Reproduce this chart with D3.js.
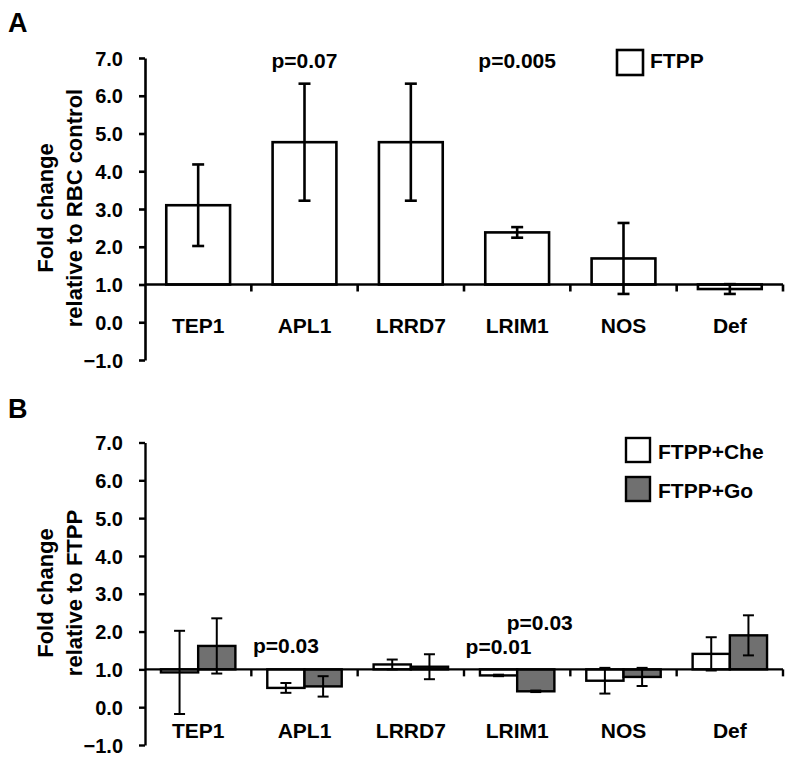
<!DOCTYPE html>
<html>
<head>
<meta charset="utf-8">
<script src="https://cdn.jsdelivr.net/npm/d3@7"></script>
<style>
  html, body { margin: 0; padding: 0; background: #fff; }
  svg { display: block; }
  text { font-family: "Liberation Sans", Arial, sans-serif; font-weight: bold; fill: #000; }
</style>
</head>
<body>
<svg id="chart" width="791" height="761"></svg>
<script>
// ---------- data ----------
const categories = ["TEP1", "APL1", "LRRD7", "LRIM1", "NOS", "Def"];
const yTickValues = [-1, 0, 1, 2, 3, 4, 5, 6, 7];

// Panel A: FTPP relative to RBC control
const ftppValues = [3.10, 4.77, 4.77, 2.38, 1.69, 0.88];
const ftppErrors = [1.08, 1.55, 1.55, 0.14, 0.94, 0.13];

// Panel B: relative to FTPP
const seriesNamesB = ["FTPP+Che", "FTPP+Go"];
const cheValues = [0.92, 0.51, 1.13, 0.84, 0.70, 1.41];
const cheErrors = [1.10, 0.13, 0.13, 0.02, 0.34, 0.44];
const goValues  = [1.62, 0.55, 1.07, 0.42, 0.80, 1.90];
const goErrors  = [0.73, 0.27, 0.33, 0.02, 0.24, 0.53];

const pLabelsA = [
  { category: "APL1", text: "p=0.07" },
  { category: "LRIM1", text: "p=0.005" }
];
const pLabelsB = [
  { category: "APL1", series: "FTPP+Che", text: "p=0.03" },
  { category: "LRIM1", series: "FTPP+Che", text: "p=0.01" },
  { category: "LRIM1", series: "FTPP+Go", text: "p=0.03" }
];

// ---------- layout ----------
const svg = d3.select("#chart");
const baseline = 1;
const gray = "#707070";

function drawAxes(g, y, x, o) {
  const yAxis = d3.axisLeft(y).tickValues(yTickValues).tickFormat(d3.format(".1f"))
    .tickSize(6).tickSizeOuter(0).tickPadding(16);
  const ga = g.append("g").attr("transform", `translate(${o.left},0)`).call(yAxis);
  ga.select(".domain").attr("stroke", "#000").attr("stroke-width", o.axisW);
  ga.selectAll(".tick line").attr("stroke", "#000").attr("stroke-width", o.axisW);
  ga.selectAll(".tick text").style("font-size", "20px").attr("dy", "0.36em");
  // x baseline at y = 1.0
  const y1 = y(baseline);
  g.append("line").attr("x1", o.left).attr("x2", o.right).attr("y1", y1).attr("y2", y1)
    .attr("stroke", "#000").attr("stroke-width", o.axisW);
  const step = x.step();
  categories.forEach((c, i) => {
    const bx = o.left + (i + 1) * step;
    g.append("line").attr("x1", bx).attr("x2", bx).attr("y1", y1).attr("y2", y1 + 7)
      .attr("stroke", "#000").attr("stroke-width", o.axisW);
  });
  // category labels
  g.selectAll(".cat").data(categories).enter().append("text")
    .attr("x", d => o.left + (categories.indexOf(d) + 0.5) * step)
    .attr("y", o.catY).attr("text-anchor", "middle").style("font-size", "21px").text(d => d);
  // y title
  o.titles.forEach((t, i) => {
    g.append("text").attr("transform", `translate(${o.titleX[i]},${o.titleY}) rotate(-90)`)
      .attr("text-anchor", "middle").style("font-size", "22px").text(t);
  });
  g.append("text").attr("x", 8).attr("y", o.letterY).style("font-size", "27px").text(o.letter);
}

function errorBar(g, cx, v, e, y, half, w) {
  const top = y(v + e), bot = y(v - e);
  g.append("line").attr("x1", cx).attr("x2", cx).attr("y1", top).attr("y2", bot)
    .attr("stroke", "#000").attr("stroke-width", w);
  [top, bot].forEach(yy => g.append("line").attr("x1", cx - half).attr("x2", cx + half)
    .attr("y1", yy).attr("y2", yy).attr("stroke", "#000").attr("stroke-width", w));
}

// ---------- Panel A ----------
const oA = { left: 145, right: 783, axisW: 2.6, catY: 333, titleX: [53, 82], titleY: 208,
  titles: ["Fold change", "relative to RBC control"], letter: "A", letterY: 32 };
const yA = d3.scaleLinear().domain([-1, 7]).range([360, 58]);
const xA = d3.scaleBand().domain(categories).range([oA.left, oA.right]).paddingInner(0.4).paddingOuter(0.2);
const gA = svg.append("g");

categories.forEach((c, i) => {
  const v = ftppValues[i];
  gA.append("rect").attr("x", xA(c)).attr("width", xA.bandwidth())
    .attr("y", Math.min(yA(v), yA(baseline))).attr("height", Math.abs(yA(v) - yA(baseline)))
    .attr("fill", "#fff").attr("stroke", "#000").attr("stroke-width", 2.6);
});
drawAxes(gA, yA, xA, oA);
categories.forEach((c, i) => {
  errorBar(gA, xA(c) + xA.bandwidth() / 2, ftppValues[i], ftppErrors[i], yA, 6, 2.6);
});
pLabelsA.forEach(p => {
  gA.append("text").attr("x", xA(p.category) + xA.bandwidth() / 2).attr("y", 68)
    .attr("text-anchor", "middle").style("font-size", "21px").text(p.text);
});
// legend A
gA.append("rect").attr("x", 617).attr("y", 50).attr("width", 26).attr("height", 25)
  .attr("fill", "#fff").attr("stroke", "#000").attr("stroke-width", 2.6);
gA.append("text").attr("x", 650).attr("y", 68).style("font-size", "21px").text("FTPP");

// ---------- Panel B ----------
const oB = { left: 145, right: 783, axisW: 2.4, catY: 738, titleX: [53, 82], titleY: 593,
  titles: ["Fold change", "relative to FTPP"], letter: "B", letterY: 418 };
const yB = d3.scaleLinear().domain([-1, 7]).range([745, 442.5]);
const xB = d3.scaleBand().domain(categories).range([oB.left, oB.right]).paddingInner(0.3).paddingOuter(0.15);
const xSub = d3.scaleBand().domain(seriesNamesB).range([0, xB.bandwidth()]);
const colorB = d3.scaleOrdinal().domain(seriesNamesB).range(["#fff", gray]);
const valsB = { "FTPP+Che": cheValues, "FTPP+Go": goValues };
const errsB = { "FTPP+Che": cheErrors, "FTPP+Go": goErrors };
const gB = svg.append("g");

categories.forEach((c, i) => {
  seriesNamesB.forEach(s => {
    const v = valsB[s][i];
    gB.append("rect").attr("x", xB(c) + xSub(s)).attr("width", xSub.bandwidth())
      .attr("y", Math.min(yB(v), yB(baseline))).attr("height", Math.abs(yB(v) - yB(baseline)))
      .attr("fill", colorB(s)).attr("stroke", "#000").attr("stroke-width", 2.4);
  });
});
drawAxes(gB, yB, xB, oB);
categories.forEach((c, i) => {
  seriesNamesB.forEach(s => {
    errorBar(gB, xB(c) + xSub(s) + xSub.bandwidth() / 2, valsB[s][i], errsB[s][i], yB, 5.5, 2);
  });
});
const pYB = [653, 654, 630];
pLabelsB.forEach((p, k) => {
  gB.append("text").attr("x", xB(p.category) + xSub(p.series) + xSub.bandwidth() / 2 + (k === 2 ? 4 : 0))
    .attr("y", pYB[k]).attr("text-anchor", "middle").style("font-size", "21px").text(p.text);
});
// legend B
const legY = [438, 477];
seriesNamesB.forEach((s, k) => {
  gB.append("rect").attr("x", 626).attr("y", legY[k]).attr("width", 24).attr("height", 24)
    .attr("fill", colorB(s)).attr("stroke", "#000").attr("stroke-width", 2.4);
  gB.append("text").attr("x", 658).attr("y", legY[k] + 21).style("font-size", "21px").text(s);
});
</script>
</body>
</html>
